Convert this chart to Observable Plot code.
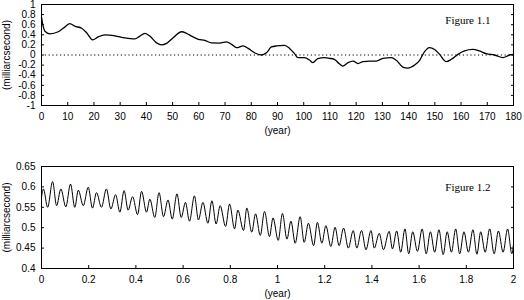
<!DOCTYPE html>
<html><head><meta charset="utf-8">
<script src="https://cdn.jsdelivr.net/npm/d3@7"></script>
<script src="https://cdn.jsdelivr.net/npm/@observablehq/plot@0.6"></script>
<style>body{margin:0;background:#fff} #c svg{display:block}</style>
</head><body><div id="c"></div>
<script>
const years1 = [0, 0.5, 1.3, 3.2, 6.4, 8.3, 10.8, 12.7, 15.3, 17.2, 19.5, 21.6, 24.2, 28, 31.8, 35.6, 37.5, 39.4, 41.3, 43.9, 45.8, 47.7, 50.2, 53.4, 55.3, 57.2, 59.8, 62.3, 64.8, 68, 70.6, 72.5, 74.4, 76.9, 78.8, 81.4, 83.9, 85.8, 87.7, 89.6, 92.7, 94.6, 96.5, 97.8, 100.3, 102.2, 103.5, 105.4, 107.9, 109.8, 111.7, 113.7, 114.9, 116.9, 118.8, 120.7, 122.6, 125.1, 127.7, 130.2, 133.4, 135.3, 137.8, 139.7, 142.3, 144.2, 146.1, 147.9, 149.9, 151.8, 154.3, 156.3, 158.8, 161.3, 164.5, 167, 169.6, 172.8, 176, 178.5, 180];
const values1 = [0.75, 0.6, 0.47, 0.42, 0.46, 0.53, 0.62, 0.57, 0.53, 0.44, 0.30, 0.36, 0.40, 0.38, 0.34, 0.32, 0.375, 0.43, 0.375, 0.24, 0.20, 0.23, 0.34, 0.46, 0.43, 0.375, 0.31, 0.29, 0.24, 0.237, 0.26, 0.21, 0.145, 0.18, 0.13, 0.04, 0.0, 0.045, 0.16, 0.18, 0.19, 0.13, 0.026, -0.053, -0.053, -0.1, -0.15, -0.07, -0.053, -0.066, -0.085, -0.18, -0.22, -0.15, -0.12, -0.17, -0.13, -0.12, -0.12, -0.066, -0.053, -0.105, -0.24, -0.26, -0.2, -0.105, 0.066, 0.145, 0.11, 0.013, -0.13, -0.085, 0.013, 0.08, 0.11, 0.08, 0.026, 0, -0.053, 0, 0.013];
const xTicks1 = [0, 10, 20, 30, 40, 50, 60, 70, 80, 90, 100, 110, 120, 130, 140, 150, 160, 170, 180];
const yTicks1 = [-1, -0.8, -0.6, -0.4, -0.2, 0, 0.2, 0.4, 0.6, 0.8, 1];

const times2 = [0, 0.008, 0.026, 0.047, 0.064, 0.082, 0.103, 0.123, 0.141, 0.156, 0.177, 0.198, 0.216, 0.233, 0.254, 0.275, 0.294, 0.314, 0.332, 0.350, 0.367, 0.386, 0.407, 0.424, 0.445, 0.459, 0.480, 0.498, 0.517, 0.536, 0.554, 0.574, 0.592, 0.610, 0.627, 0.648, 0.665, 0.684, 0.705, 0.722, 0.740, 0.757, 0.780, 0.797, 0.818, 0.832, 0.856, 0.870, 0.891, 0.907, 0.927, 0.945, 0.966, 0.981, 1.003, 1.021, 1.040, 1.057, 1.075, 1.096, 1.113, 1.131, 1.153, 1.169, 1.188, 1.205, 1.226, 1.244, 1.261, 1.280, 1.300, 1.321, 1.336, 1.356, 1.375, 1.396, 1.410, 1.431, 1.449, 1.473, 1.487, 1.505, 1.522, 1.540, 1.556, 1.573, 1.593, 1.613, 1.630, 1.648, 1.666, 1.684, 1.702, 1.719, 1.737, 1.755, 1.772, 1.790, 1.809, 1.828, 1.845, 1.861, 1.880, 1.899, 1.918, 1.936, 1.956, 1.975, 1.993, 2.0];
const values2 = [0.575, 0.595, 0.55, 0.613, 0.554, 0.595, 0.551, 0.607, 0.55, 0.592, 0.554, 0.599, 0.548, 0.586, 0.55, 0.595, 0.546, 0.581, 0.538, 0.591, 0.543, 0.576, 0.532, 0.589, 0.538, 0.570, 0.525, 0.586, 0.527, 0.568, 0.521, 0.583, 0.525, 0.562, 0.516, 0.578, 0.519, 0.562, 0.511, 0.566, 0.509, 0.554, 0.503, 0.558, 0.497, 0.543, 0.493, 0.548, 0.489, 0.534, 0.481, 0.540, 0.478, 0.524, 0.469, 0.535, 0.472, 0.516, 0.462, 0.527, 0.464, 0.511, 0.456, 0.513, 0.462, 0.505, 0.454, 0.501, 0.456, 0.499, 0.450, 0.493, 0.450, 0.493, 0.446, 0.493, 0.450, 0.486, 0.446, 0.491, 0.448, 0.492, 0.440, 0.497, 0.436, 0.490, 0.442, 0.497, 0.436, 0.490, 0.440, 0.495, 0.434, 0.490, 0.440, 0.497, 0.436, 0.490, 0.440, 0.495, 0.435, 0.490, 0.440, 0.497, 0.436, 0.492, 0.440, 0.497, 0.436, 0.460];
const xTicks2 = [0, 0.2, 0.4, 0.6, 0.8, 1, 1.2, 1.4, 1.6, 1.8, 2];
const yTicks2 = [0.4, 0.45, 0.5, 0.55, 0.6, 0.65];

const yLabel = "(milliarcsecond)";
const xLabel = "(year)";
const titles = ["Figure 1.1", "Figure 1.2"];
const zeroLine = [0];

const fmt = d => String(+d.toFixed(2));
const data1 = years1.map((t, i) => ({t, v: values1[i]}));
const data2 = times2.map((t, i) => ({t, v: values2[i]}));
const style = {fontFamily: "'Liberation Sans', Arial, sans-serif", fontSize: "10px", color: "black", background: "white", overflow: "visible"};

function panel({data, xTicks, yTicks, xDomain, yDomain, height, marginTop, marginBottom, title, titleDy, zero, lw}) {
  return Plot.plot({
    width: 524, height, marginLeft: 41, marginRight: 11, marginTop, marginBottom,
    style,
    x: {domain: xDomain}, y: {domain: yDomain},
    marks: [
      Plot.frame({stroke: "black", strokeWidth: 1}),
      zero ? Plot.ruleY(zero, {stroke: "black", strokeDasharray: "1.2,2.6"}) : null,
      Plot.axisX(xTicks, {tickSize: -3, tickPadding: 10, tickFormat: fmt, label: xLabel, labelAnchor: "center", labelArrow: "none", labelOffset: 28}),
      Plot.axisY(yTicks, {anchor: "left", tickSize: -3, tickPadding: 9, tickFormat: fmt, label: yLabel, labelAnchor: "center", labelArrow: "none", labelOffset: 39}),
      Plot.axisY(yTicks, {anchor: "right", tickSize: -3, tickFormat: () => "", label: null}),
      Plot.line(data, {x: "t", y: "v", curve: "monotone-x", stroke: "black", strokeWidth: lw}),
      Plot.text([title], {text: d => d, frameAnchor: "top-right", dx: -23, dy: titleDy, textAnchor: "end", fontFamily: "'Liberation Serif', 'Times New Roman', serif", fontSize: 11})
    ]
  });
}

const c = document.getElementById("c");
c.append(panel({data: data1, xTicks: xTicks1, yTicks: yTicks1, xDomain: [0, 180], yDomain: [-1, 1], height: 145, marginTop: 4, marginBottom: 40, title: titles[0], titleDy: 12, zero: zeroLine, lw: 1.3}));
c.append(panel({data: data2, xTicks: xTicks2, yTicks: yTicks2, xDomain: [0, 2], yDomain: [0.4, 0.65], height: 155, marginTop: 21, marginBottom: 32, title: titles[1], titleDy: 17, zero: null, lw: 1}));
</script>
</body></html>
